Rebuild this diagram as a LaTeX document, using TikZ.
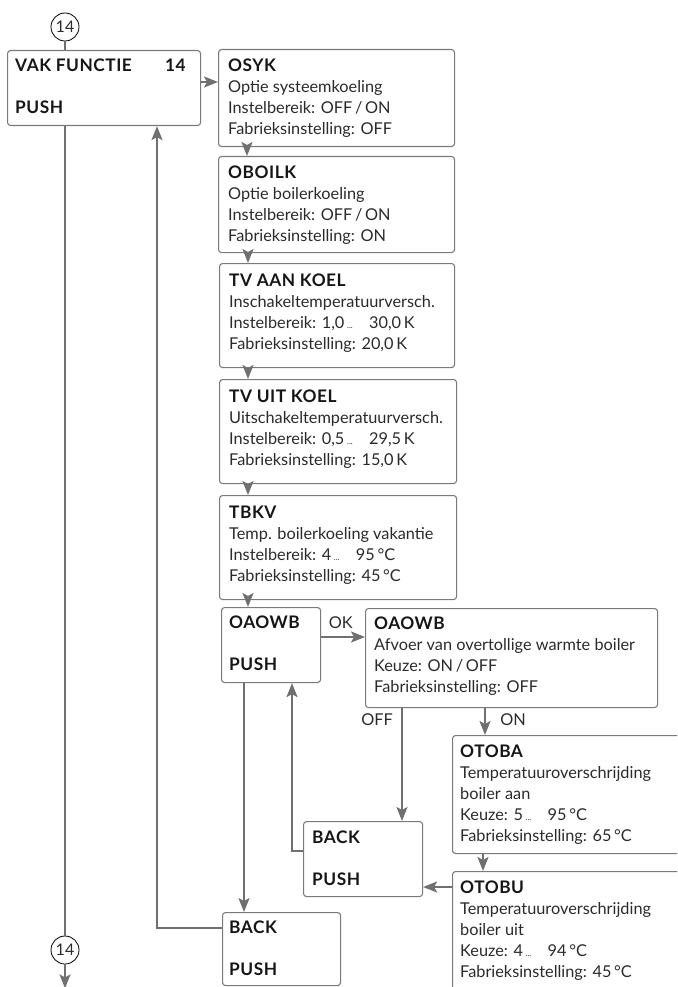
\documentclass[tikz,border=0pt]{standalone}
\usepackage{fontspec}
\setmainfont{Lato}
\newfontfamily\hdfont[LetterSpace=3]{Lato}
\usetikzlibrary{arrows.meta,positioning,calc}
\definecolor{boxc}{HTML}{7A7A7A}
\definecolor{arrc}{HTML}{707070}
\definecolor{txtc}{HTML}{2A2A2A}
\definecolor{hdc}{HTML}{161616}
\tikzset{
  box/.style={draw=boxc, line width=1.1pt, rounded corners=3pt, anchor=north west, inner sep=0pt},
  txt/.style={anchor=north west, inner sep=0pt, align=left, text=txtc, font=\fontsize{16.3}{21}\selectfont},
  arr/.style={draw=arrc, line width=1.9pt, -{Stealth[length=14pt,width=11pt,inset=3pt]}},
  ln/.style={draw=arrc, line width=1.9pt},
  lbl/.style={inner sep=0pt, text=txtc, font=\fontsize{16.3}{18}\selectfont},
  circ/.style={draw=black, line width=0.8pt, circle, inner sep=0pt, minimum size=28pt, text=txtc, font=\fontsize{16}{18}\selectfont}
}
\newcommand{\hd}[1]{{\hdfont\fontsize{17.3}{21}\selectfont\bfseries\color{hdc}#1}}
\newcommand{\dts}{\,{\fontsize{8}{8}\selectfont...}\quad}
\begin{document}
\begin{tikzpicture}[x=1pt,y=-1pt]
\useasboundingbox (0,0) rectangle (677,987);
\clip (0,0) rectangle (677,987);
% circles
\node[circ] (c1) at (65,27) {14};
\node[circ] (c2) at (65,950) {14};
% boxes
\node[box, minimum width=193pt, minimum height=75pt] (vak) at (7,50) {};
\node[txt] at ([shift={(8pt,-9pt)}]vak.north west) {\hd{VAK FUNCTIE}\\[21pt]\hd{PUSH}};
\node[txt] at ([shift={(158pt,-9pt)}]vak.north west) {\hd{14}};

\node[box, minimum width=236pt, minimum height=97pt] (osyk) at (218,49) {};
\node[txt] at ([shift={(10pt,-10pt)}]osyk.north west) {\hd{OSYK}\\Optie systeemkoeling\\Instelbereik: OFF\,/\,ON\\Fabrieksinstelling: OFF};

\node[box, minimum width=236pt, minimum height=96pt] (oboilk) at (218,156) {};
\node[txt] at ([shift={(10pt,-10pt)}]oboilk.north west) {\hd{OBOILK}\\Optie boilerkoeling\\Instelbereik: OFF\,/\,ON\\Fabrieksinstelling: ON};

\node[box, minimum width=235pt, minimum height=104pt] (tvaan) at (219,263) {};
\node[txt] at ([shift={(10pt,-11pt)}]tvaan.north west) {\hd{TV AAN KOEL}\\Inschakeltemperatuurversch.\\Instelbereik: 1,0\dts 30,0\,K\\Fabrieksinstelling: 20,0\,K};

\node[box, minimum width=237pt, minimum height=104pt] (tvuit) at (219,379) {};
\node[txt] at ([shift={(10pt,-11pt)}]tvuit.north west) {\hd{TV UIT KOEL}\\Uitschakeltemperatuurversch.\\Instelbereik: 0,5\dts 29,5\,K\\Fabrieksinstelling: 15,0\,K};

\node[box, minimum width=237pt, minimum height=104pt] (tbkv) at (219,495) {};
\node[txt] at ([shift={(10pt,-11pt)}]tbkv.north west) {\hd{TBKV}\\Temp. boilerkoeling vakantie\\Instelbereik: 4\dts 95\,°C\\Fabrieksinstelling: 45\,°C};

\node[box, minimum width=99pt, minimum height=75pt] (oaowbS) at (221,607) {};
\node[txt] at ([shift={(8pt,-9pt)}]oaowbS.north west) {\hd{OAOWB}\\[21pt]\hd{PUSH}};

\node[box, minimum width=292pt, minimum height=99pt] (oaowbB) at (365,608) {};
\node[txt] at ([shift={(9pt,-9pt)}]oaowbB.north west) {\hd{OAOWB}\\Afvoer van overtollige warmte boiler\\Keuze: ON\,/\,OFF\\Fabrieksinstelling: OFF};

\node[box, minimum width=260pt, minimum height=118pt] (otoba) at (452,735) {};
\node[txt] at ([shift={(8pt,-10pt)}]otoba.north west) {\hd{OTOBA}\\Temperatuuroverschrijding\\boiler aan\\Keuze: 5\dts 95\,°C\\Fabrieksinstelling: 65\,°C};

\node[box, minimum width=260pt, minimum height=140pt] (otobu) at (452,871) {};
\node[txt] at ([shift={(8pt,-10pt)}]otobu.north west) {\hd{OTOBU}\\Temperatuuroverschrijding\\boiler uit\\Keuze: 4\dts 94\,°C\\Fabrieksinstelling: 45\,°C};

\node[box, minimum width=119pt, minimum height=75pt] (back1) at (303,821) {};
\node[txt] at ([shift={(9pt,-10pt)}]back1.north west) {\hd{BACK}\\[21pt]\hd{PUSH}};

\node[box, minimum width=118pt, minimum height=73pt] (back2) at (222,912) {};
\node[txt] at ([shift={(7pt,-9pt)}]back2.north west) {\hd{BACK}\\[21pt]\hd{PUSH}};

% coordinates for bends
\coordinate (b2c) at (157,928);
\coordinate (b1c) at (292,851);

% connectors
\draw[ln] (c1) -- (c1 |- vak.north);
\draw[ln] (c1 |- vak.south) -- (c2);
\draw[arr] (c2.south) -- ++(0,24);
\draw[arr] ([yshift=-32pt]vak.north east) -- (osyk.west |- {0,82});
\draw[arr] ([xshift=29pt]osyk.south west) -- ([xshift=29pt]oboilk.north west);
\draw[arr] ([xshift=30pt]oboilk.south west) -- ([xshift=29pt]tvaan.north west);
\draw[arr] ([xshift=29pt]tvaan.south west) -- ([xshift=29pt]tvuit.north west);
\draw[arr] ([xshift=29pt]tvuit.south west) -- ([xshift=29pt]tbkv.north west);
\draw[arr] ([xshift=29pt]tbkv.south west) -- ([xshift=27pt]oaowbS.north west);
\draw[arr] ([yshift=-30pt]oaowbS.north east) -- ([yshift=-29pt]oaowbB.north west)
  node[lbl, pos=0.45, above=7pt] (ok) {OK};
\draw[arr] ([xshift=23pt]oaowbS.south west) -- ([xshift=22pt]back2.north west);
\draw[arr] ([yshift=-16pt]back2.north west) -- (b2c) -- (b2c |- vak.south);
\draw[arr] ([xshift=37pt]oaowbB.south west) -- ([xshift=99pt]back1.north west);
\draw[arr] ([yshift=-30pt]back1.north west) -- (b1c) -- (b1c |- oaowbS.south);
\draw[arr] ([xshift=120pt]oaowbB.south west) -- ([xshift=33pt]otoba.north west);
\draw[arr] ([xshift=31pt]otoba.south west) -- ([xshift=31pt]otobu.north west);
\draw[arr] ([yshift=-16pt]otobu.north west) -- (back1.east |- {0,887});
\node[lbl] (off) at (377,720) {OFF};
\node[lbl] (on) at (513,720) {ON};
\end{tikzpicture}
\end{document}
